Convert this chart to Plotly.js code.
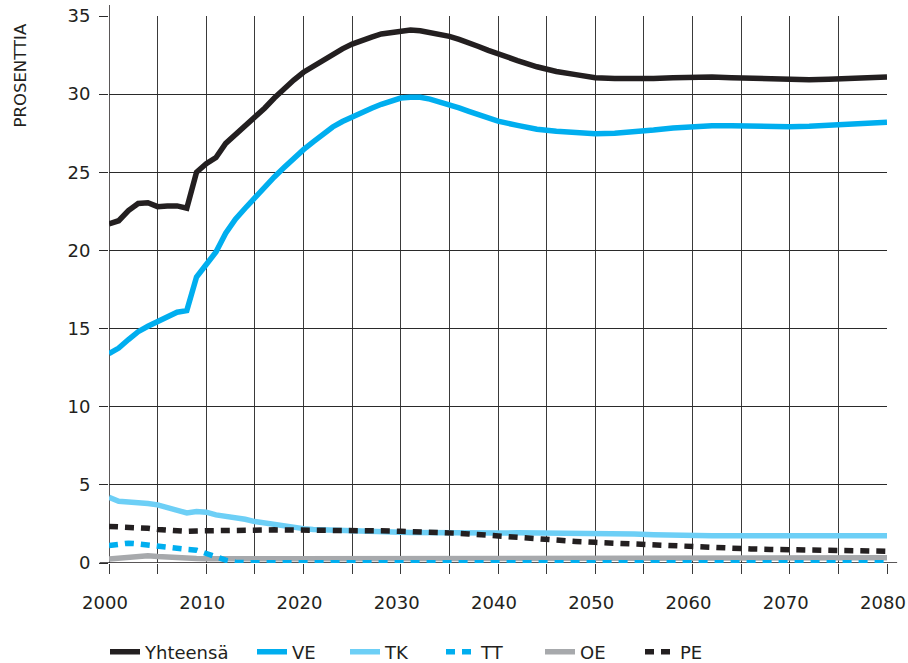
<!DOCTYPE html>
<html>
<head>
<meta charset="utf-8">
<script src="https://cdn.plot.ly/plotly-3.0.1.min.js"></script>
<style>html,body{margin:0;padding:0;background:#fff;}#chart{width:908px;height:663px;}</style>
</head>
<body>
<div id="chart"></div>
<script>
var years = [2000,2001,2002,2003,2004,2005,2006,2007,2008,2009,
             2010,2011,2012,2013,2014,2015,2016,2017,2018,2019,
             2020,2021,2022,2023,2024,2025,2026,2027,2028,2029,
             2030,2031,2032,2033,2034,2035,2036,2037,2038,2039,
             2040,2042,2044,2046,2048,2050,2052,2054,2056,2058,
             2060,2062,2064,2066,2068,2070,2072,2074,2076,2078,2080];

var yhteensa = [21.7,21.9,22.55,23.0,23.05,22.8,22.85,22.85,22.7,25.0,
                25.55,25.95,26.85,27.4,27.9,28.45,29.1,29.75,30.35,30.9,
                31.4,31.8,32.2,32.6,32.9,33.2,33.45,33.65,33.85,33.95,
                34.05,34.1,34.05,33.95,33.85,33.7,33.5,33.3,33.05,32.8,
                32.57,32.15,31.75,31.45,31.25,31.05,31.0,30.97,31.0,31.05,
                31.1,31.1,31.05,31.0,30.95,30.92,30.92,30.95,31.0,31.03,31.1];

var ve = [13.4,13.75,14.3,14.8,15.15,15.45,15.75,16.05,16.15,18.3,
          19.1,19.9,21.1,22.0,22.7,23.4,24.05,24.7,25.3,25.9,
          26.45,26.95,27.45,27.9,28.25,28.55,28.85,29.1,29.35,29.55,
          29.75,29.8,29.8,29.68,29.52,29.35,29.12,28.9,28.68,28.47,
          28.27,28.0,27.75,27.62,27.52,27.47,27.5,27.58,27.7,27.83,
          27.92,27.97,27.98,27.95,27.92,27.92,27.95,28.0,28.07,28.13,28.2];

var tk = [4.2,3.95,3.9,3.87,3.8,3.72,3.55,3.4,3.2,3.3,
          3.25,3.08,3.0,2.93,2.8,2.65,2.55,2.45,2.35,2.27,
          2.2,2.15,2.12,2.1,2.08,2.06,2.04,2.02,2.0,1.98,
          1.96,1.95,1.94,1.93,1.93,1.92,1.92,1.92,1.92,1.92,
          1.92,1.93,1.93,1.93,1.92,1.91,1.9,1.86,1.81,1.77,
          1.75,1.74,1.74,1.74,1.74,1.74,1.74,1.74,1.74,1.74,1.74];

var tt = [1.12,1.2,1.27,1.22,1.15,1.0,0.95,0.9,0.87,0.82,
          0.65,0.4,0.18,0.05,0.02,0.02,0.02,0.02,0.02,0.02,
          0.02,0.02,0.02,0.02,0.02,0.02,0.02,0.02,0.02,0.02,
          0.02,0.02,0.02,0.02,0.02,0.02,0.02,0.02,0.02,0.02,
          0.02,0.02,0.02,0.02,0.02,0.02,0.02,0.02,0.02,0.02,
          0.02,0.02,0.02,0.02,0.02,0.02,0.02,0.02,0.02,0.02,0.02];

var oe = [0.26,0.32,0.4,0.45,0.47,0.42,0.37,0.33,0.3,0.28,
          0.27,0.26,0.26,0.26,0.26,0.26,0.26,0.26,0.27,0.27,
          0.27,0.27,0.27,0.27,0.27,0.27,0.27,0.28,0.28,0.28,
          0.28,0.28,0.28,0.29,0.29,0.29,0.29,0.29,0.3,0.3,
          0.3,0.3,0.31,0.31,0.31,0.32,0.32,0.32,0.32,0.32,
          0.32,0.32,0.32,0.33,0.33,0.33,0.33,0.33,0.33,0.33,0.33];

var pe = [2.34,2.33,2.3,2.27,2.22,2.15,2.1,2.05,2.02,2.05,
          2.07,2.08,2.08,2.1,2.1,2.1,2.11,2.12,2.12,2.13,
          2.13,2.13,2.12,2.12,2.11,2.1,2.09,2.08,2.06,2.05,
          2.03,2.02,2.0,1.98,1.96,1.93,1.9,1.86,1.81,1.76,
          1.72,1.64,1.56,1.47,1.38,1.32,1.26,1.2,1.14,1.08,
          1.03,0.98,0.93,0.9,0.87,0.85,0.82,0.8,0.78,0.76,0.75];

var seriesNames = ['Yhteensä','VE','TK','TT','OE','PE'];
var xTicks = [2000,2010,2020,2030,2040,2050,2060,2070,2080];
var yTicks = [0,5,10,15,20,25,30,35];

var FONT = 'DejaVu Sans, sans-serif';
var DARK = '#231f20';
var BLUE = '#00aeef';
var LIGHT = '#6dcff6';
var GREY = '#a7a9ac';

var dataArr = [yhteensa, ve, tk, tt, oe, pe];
var styles = [
  {color: DARK, dash: 'solid'},
  {color: BLUE, dash: 'solid'},
  {color: LIGHT, dash: 'solid'},
  {color: BLUE, dash: '9px,7px'},
  {color: GREY, dash: 'solid'},
  {color: DARK, dash: '9px,7px'}
];
var legendIds = ['legend','legend2','legend3','legend4','legend5','legend6'];
var legendPx = [110,257,350,446,545,645];

var order = [4,2,5,3,1,0];
var traces = order.map(function(i){
  return {
    x: years, y: dataArr[i], name: seriesNames[i], type: 'scatter', mode: 'lines',
    line: {color: styles[i].color, width: 5.5, dash: styles[i].dash},
    legend: legendIds[i], hoverinfo: 'skip'
  };
});

var layout = {
  width: 908, height: 663,
  margin: {l: 109, r: 21, t: 16, b: 100},
  paper_bgcolor: '#fff', plot_bgcolor: '#fff',
  font: {family: FONT, color: DARK, size: 18},
  showlegend: true,
  xaxis: {
    range: [2000, 2080], tickvals: xTicks, ticktext: xTicks.map(String),
    showgrid: true, gridcolor: '#3a3a3a', gridwidth: 1,
    minor: {dtick: 5, tick0: 2000, showgrid: true, gridcolor: '#3a3a3a', gridwidth: 1, ticks: 'outside', ticklen: 10, tickcolor: '#3a3a3a'},
    ticks: 'outside', ticklen: 10, tickcolor: '#3a3a3a', tickwidth: 1,
    zeroline: false, showline: false, fixedrange: true,
    tickfont: {size: 18, color: DARK, family: FONT},
    ticklabelstandoff: 13,
    ticklabelshift: -4,
    ticklabeloverflow: 'allow'
  },
  yaxis: {
    range: [0, 35], tickvals: yTicks, ticktext: yTicks.map(String),
    showgrid: true, gridcolor: '#2a2a2a', gridwidth: 1,
    ticks: 'outside', ticklen: 9, tickcolor: '#2a2a2a', tickwidth: 1,
    zeroline: false, showline: false, fixedrange: true,
    tickfont: {size: 18, color: DARK, family: FONT},
    ticklabelstandoff: 5
  },
  shapes: [
    {type: 'line', layer: 'below', xref: 'x', yref: 'paper', x0: 2000, x1: 2000, y0: 0, y1: 1.02, line: {color: DARK, width: 1.5}},
    {type: 'line', layer: 'below', xref: 'paper', yref: 'y', x0: -0.012, x1: 1.013, y0: 0, y1: 0, line: {color: DARK, width: 1.5}}
  ],
  annotations: [
    {text: 'PROSENTTIA', xref: 'paper', yref: 'paper', x: -0.1144, y: 0.99,
     xanchor: 'center', yanchor: 'top', textangle: -90, showarrow: false,
     font: {size: 16.5, color: DARK, family: FONT}}
  ]
};

legendIds.forEach(function(id, i){
  layout[id] = {
    xref: 'container', yref: 'container',
    x: (legendPx[i] - 5) / 908, y: 1 - 652/663,
    xanchor: 'left', yanchor: 'middle', orientation: 'h',
    bgcolor: 'rgba(0,0,0,0)', borderwidth: 0,
    font: {size: 18, color: DARK, family: FONT},
    itemwidth: 30
  };
});

Plotly.newPlot('chart', traces, layout, {displayModeBar: false, staticPlot: true});
</script>
</body>
</html>
